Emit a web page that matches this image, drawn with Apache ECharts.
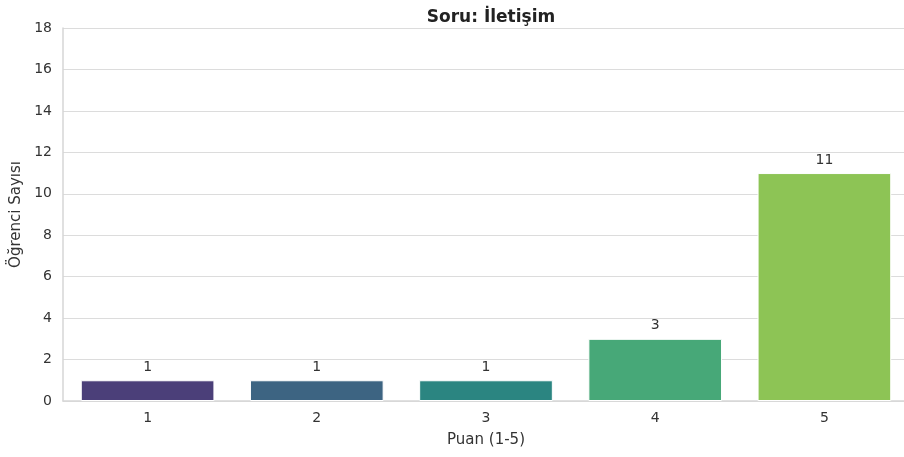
<!DOCTYPE html>
<html>
<head>
<meta charset="utf-8">
<script src="https://cdn.jsdelivr.net/npm/echarts@6/dist/echarts.min.js"></script>
<style>
  html, body { margin: 0; padding: 0; background: #fff; overflow: hidden; }
  #chart { width: 904px; height: 457px; }
</style>
</head>
<body>
<div id="chart"></div>
<script>
// puanlar ve öğrenci sayıları
const categories = ['1', '2', '3', '4', '5']
const counts = [1, 1, 1, 3, 11]
const barColors = ['#4b3f79', '#3d6482', '#2b8581', '#47a878', '#8dc455']

const chart = echarts.init(document.getElementById('chart'))

const font = '"DejaVu Sans"'

chart.setOption({
  animation: false,
  title: {
    text: 'Soru: İletişim',
    left: 486,
    textAlign: 'center',
    top: 4,
    textStyle: {
      fontFamily: font,
      fontSize: 17,
      fontWeight: 'bold',
      color: '#222'
    }
  },
  grid: {
    left: 63,
    width: 846,
    top: 28,
    bottom: 56,
    outerBoundsMode: 'none'
  },
  xAxis: {
    type: 'category',
    data: categories,
    name: 'Puan (1-5)',
    nameLocation: 'middle',
    nameGap: 32,
    nameTextStyle: {fontFamily: font, fontSize: 15, color: '#333'},
    axisLine: {lineStyle: {color: '#d6d6d6', width: 1.5}},
    axisTick: {show: false},
    axisLabel: {fontFamily: font, fontSize: 14, color: '#333', margin: 10}
  },
  yAxis: {
    type: 'value',
    min: 0,
    max: 18,
    interval: 2,
    name: 'Öğrenci Sayısı',
    nameLocation: 'middle',
    nameGap: 38,
    nameTextStyle: {fontFamily: font, fontSize: 15, color: '#333'},
    axisLine: {show: true, lineStyle: {color: '#d6d6d6', width: 1.5}},
    axisTick: {show: false},
    axisLabel: {fontFamily: font, fontSize: 14, color: '#333', margin: 11},
    splitLine: {lineStyle: {color: '#dcdcdc', width: 1.2}}
  },
  series: [{
    type: 'bar',
    barWidth: '79%',
    data: counts.map((v, i) => ({
      value: v,
      itemStyle: {color: barColors[i], borderColor: '#fff', borderWidth: 1}
    })),
    label: {
      show: true,
      position: 'top',
      distance: 6,
      fontFamily: font,
      fontSize: 14,
      color: '#333'
    }
  }]
})
</script>
</body>
</html>
